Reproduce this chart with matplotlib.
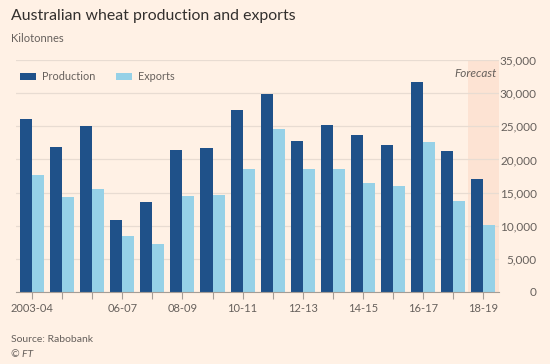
import matplotlib

matplotlib.use("Agg")
import matplotlib.pyplot as plt
import numpy as np

# Paleta estilo FT
BG = "#FFF1E5"
FORECAST_BG = "#FDE3D3"
PROD = "#1F5189"
EXPO = "#96D1E7"
GRID = "#E8DCD2"
AXIS = "#A59D96"
TEXT = "#66605C"
TITLE = "#33302E"
FONT = "Lato"

seasons = ["2003-04", "04-05", "05-06", "06-07", "07-08", "08-09", "09-10",
           "10-11", "11-12", "12-13", "13-14", "14-15", "15-16", "16-17",
           "17-18", "18-19"]
production = [26100, 21900, 25100, 10800, 13500, 21400, 21800, 27400,
              29900, 22800, 25200, 23700, 22200, 31700, 21200, 17000]
exports = [17600, 14300, 15600, 8400, 7200, 14500, 14600, 18500,
           24600, 18600, 18600, 16500, 16000, 22600, 13700, 10100]
labelled = ["2003-04", "06-07", "08-09", "10-11", "12-13", "14-15",
            "16-17", "18-19"]
yticks = [0, 5000, 10000, 15000, 20000, 25000, 30000, 35000]

fig = plt.figure(figsize=(5.5, 3.64), dpi=100)
fig.patch.set_facecolor(BG)
ax = fig.add_axes([0.029, 0.198, 0.879, 0.637])
ax.set_facecolor(BG)

x = np.arange(len(seasons))
w = 0.4
ax.axvspan(len(seasons) - 1.5, len(seasons) - 0.47, color=FORECAST_BG,
           lw=0, zorder=0)
ax.bar(x - w / 2, production, width=w, color=PROD, zorder=3,
       label="Production")
ax.bar(x + w / 2, exports, width=w, color=EXPO, zorder=3, label="Exports")

ax.set_xlim(-0.53, len(seasons) - 0.47)
ax.set_ylim(0, 35000)

# eixo y à direita
ax.yaxis.tick_right()
ax.set_yticks(yticks)
ax.set_yticklabels([f"{v:,}" for v in yticks], fontsize=8.5, color=TEXT,
                   family=FONT)
for lab in ax.get_yticklabels():
    lab.set_horizontalalignment("right")
ax.tick_params(axis="y", length=0, pad=27)
ax.grid(axis="y", color=GRID, lw=0.9, zorder=1)

ax.set_xticks(x)
ax.set_xticklabels([s if s in labelled else "" for s in seasons],
                   fontsize=8, color=TEXT, family=FONT)
ax.tick_params(axis="x", length=5, width=0.8, color=AXIS, pad=3)

for sp in ["top", "left", "right"]:
    ax.spines[sp].set_visible(False)
ax.spines["bottom"].set_color(AXIS)
ax.spines["bottom"].set_linewidth(0.8)
ax.spines["bottom"].set_zorder(4)

ax.text(0.995, 0.94, "Forecast", transform=ax.transAxes, ha="right",
        va="center", fontsize=8.5, style="italic", color=TEXT, family=FONT)

leg = ax.legend(loc="upper left", bbox_to_anchor=(-0.012, 0.993), ncol=2,
                frameon=False, handlelength=1.45, handleheight=0.67,
                columnspacing=1.9, handletextpad=0.6,
                prop={"family": FONT, "size": 7.8})
for t in leg.get_texts():
    t.set_color(TEXT)

fig.text(0.02, 0.955, "Australian wheat production and exports",
         fontsize=11.4, color=TITLE, family=FONT, va="center")
fig.text(0.02, 0.893, "Kilotonnes", fontsize=8, color=TEXT, family=FONT,
         va="center")
fig.text(0.02, 0.066, "Source: Rabobank", fontsize=7.5, color=TEXT,
         family=FONT, va="center")
fig.text(0.02, 0.027, "© FT", fontsize=7.5, color=TEXT, family=FONT,
         style="italic", va="center")

fig.savefig("out.png", facecolor=fig.get_facecolor())
